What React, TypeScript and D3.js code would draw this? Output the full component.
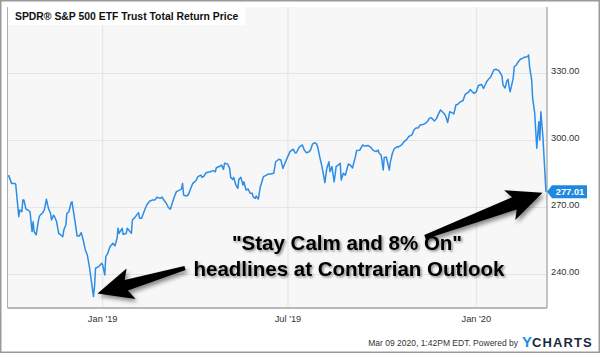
import React from "react";
import * as d3 from "d3";

const TITLE = "SPDR® S&P 500 ETF Trust Total Return Price";
const Y_TICKS = [240, 270, 300, 330];
const Y_DOMAIN = [240, 330];
const X_DOMAIN = ["2018-09-30", "2020-03-10"];
const X_TICKS = ["2019-01-01", "2019-07-01", "2020-01-01"];
const X_TICK_LABELS = ["Jan '19", "Jul '19", "Jan '20"];
const LAST_LABEL = "277.01";
const ANNOTATION_LINES = ["\"Stay Calm and 8% On\"", "headlines at Contrarian Outlook"];
const FOOTER = "Mar 09 2020, 1:42PM EDT.  Powered by";

const SERIES: [string, number][] = [
  ["2018-10-01", 284.5], ["2018-10-04", 280.8], ["2018-10-07", 280.8], ["2018-10-08", 280.5],
  ["2018-10-11", 265.9], ["2018-10-12", 268.9], ["2018-10-14", 268.1], ["2018-10-15", 273.4],
  ["2018-10-16", 273.4], ["2018-10-18", 269.3], ["2018-10-20", 268.9], ["2018-10-22", 268.1],
  ["2018-10-24", 259.2], ["2018-10-25", 263.6], ["2018-10-26", 259.2], ["2018-10-28", 257.7],
  ["2018-10-30", 263.6], ["2018-10-31", 265.9], ["2018-11-01", 266.6], ["2018-11-03", 267.4],
  ["2018-11-05", 268.9], ["2018-11-07", 273.7], ["2018-11-09", 269.6], ["2018-11-11", 267.4],
  ["2018-11-12", 264.4], ["2018-11-14", 266.6], ["2018-11-15", 265.9], ["2018-11-17", 263.6],
  ["2018-11-19", 258.4], ["2018-11-21", 257.7], ["2018-11-23", 256.9], ["2018-11-24", 259.9],
  ["2018-11-26", 262.2], ["2018-11-27", 267.4], ["2018-11-29", 268.1], ["2018-12-01", 271.9],
  ["2018-12-02", 272.6], ["2018-12-04", 266.6], ["2018-12-05", 263.6], ["2018-12-07", 257.2],
  ["2018-12-09", 257.2], ["2018-12-11", 258.7], ["2018-12-13", 255.4], ["2018-12-15", 251.0],
  ["2018-12-17", 248.7], ["2018-12-19", 243.5], ["2018-12-21", 236.8], ["2018-12-23", 230.1],
  ["2018-12-24", 234.5], ["2018-12-25", 242.8], ["2018-12-28", 243.5], ["2018-12-31", 245.0],
  ["2019-01-01", 244.2], ["2019-01-03", 239.8], ["2019-01-04", 248.0], ["2019-01-06", 249.5],
  ["2019-01-08", 252.4], ["2019-01-11", 254.0], ["2019-01-13", 252.8], ["2019-01-15", 256.2],
  ["2019-01-16", 260.7], ["2019-01-17", 258.4], ["2019-01-20", 260.7], ["2019-01-21", 258.0],
  ["2019-01-24", 258.4], ["2019-01-25", 260.7], ["2019-01-29", 258.4], ["2019-01-30", 264.4],
  ["2019-02-02", 265.9], ["2019-02-05", 267.7], ["2019-02-06", 265.2], ["2019-02-08", 265.2],
  ["2019-02-11", 268.9], ["2019-02-13", 271.1], ["2019-02-16", 272.9], ["2019-02-19", 273.4],
  ["2019-02-21", 273.4], ["2019-02-23", 274.6], ["2019-02-26", 274.1], ["2019-02-28", 274.7],
  ["2019-03-01", 273.8], ["2019-03-04", 272.0], ["2019-03-06", 270.1], ["2019-03-08", 269.2],
  ["2019-03-10", 272.0], ["2019-03-12", 274.8], ["2019-03-14", 277.1], ["2019-03-17", 277.8],
  ["2019-03-19", 278.3], ["2019-03-20", 280.8], ["2019-03-21", 275.6], ["2019-03-24", 275.1],
  ["2019-03-26", 276.0], ["2019-03-28", 278.6], ["2019-03-30", 280.8], ["2019-04-02", 282.0],
  ["2019-04-04", 283.8], ["2019-04-07", 284.5], ["2019-04-08", 283.5], ["2019-04-10", 284.1],
  ["2019-04-12", 285.6], ["2019-04-16", 286.0], ["2019-04-19", 286.5], ["2019-04-21", 286.0],
  ["2019-04-22", 287.8], ["2019-04-26", 288.6], ["2019-04-27", 289.0], ["2019-04-29", 287.1],
  ["2019-04-30", 289.8], ["2019-05-03", 289.5], ["2019-05-05", 287.5], ["2019-05-06", 283.5],
  ["2019-05-08", 282.6], ["2019-05-09", 283.5], ["2019-05-11", 280.1], ["2019-05-13", 278.6],
  ["2019-05-14", 282.6], ["2019-05-16", 283.5], ["2019-05-18", 280.1], ["2019-05-19", 281.5],
  ["2019-05-21", 277.8], ["2019-05-23", 278.3], ["2019-05-25", 276.4], ["2019-05-27", 276.4],
  ["2019-05-28", 274.8], ["2019-05-30", 274.1], ["2019-05-31", 275.1], ["2019-06-02", 273.8],
  ["2019-06-04", 279.3], ["2019-06-07", 283.8], ["2019-06-09", 284.3], ["2019-06-12", 285.0],
  ["2019-06-14", 285.0], ["2019-06-17", 285.3], ["2019-06-19", 290.5], ["2019-06-22", 291.6],
  ["2019-06-24", 291.3], ["2019-06-26", 287.5], ["2019-06-28", 289.8], ["2019-06-30", 292.0],
  ["2019-07-03", 295.0], ["2019-07-06", 296.1], ["2019-07-08", 294.5], ["2019-07-09", 294.4],
  ["2019-07-12", 297.0], ["2019-07-15", 298.0], ["2019-07-17", 295.7], ["2019-07-19", 294.5],
  ["2019-07-21", 294.8], ["2019-07-23", 295.7], ["2019-07-25", 298.4], ["2019-07-27", 299.0],
  ["2019-07-29", 298.4], ["2019-07-30", 297.1], ["2019-08-01", 292.7], ["2019-08-03", 288.6],
  ["2019-08-05", 283.8], ["2019-08-06", 281.1], ["2019-08-08", 287.7], ["2019-08-10", 290.5],
  ["2019-08-11", 286.0], ["2019-08-13", 288.3], ["2019-08-15", 281.5], ["2019-08-16", 284.5],
  ["2019-08-17", 288.3], ["2019-08-19", 289.0], ["2019-08-21", 289.8], ["2019-08-22", 282.3],
  ["2019-08-24", 285.3], ["2019-08-26", 284.5], ["2019-08-29", 289.5], ["2019-08-31", 289.0],
  ["2019-09-02", 287.7], ["2019-09-05", 293.1], ["2019-09-06", 295.5], ["2019-09-09", 295.6],
  ["2019-09-12", 298.0], ["2019-09-14", 297.5], ["2019-09-17", 297.8], ["2019-09-20", 296.9],
  ["2019-09-22", 295.7], ["2019-09-25", 295.0], ["2019-09-27", 295.7], ["2019-09-28", 294.3],
  ["2019-09-30", 293.5], ["2019-10-02", 286.8], ["2019-10-03", 292.4], ["2019-10-05", 292.6],
  ["2019-10-08", 286.8], ["2019-10-09", 290.4], ["2019-10-11", 294.3], ["2019-10-13", 296.5],
  ["2019-10-16", 297.2], ["2019-10-17", 297.1], ["2019-10-20", 298.0], ["2019-10-22", 299.3],
  ["2019-10-25", 300.5], ["2019-10-27", 301.8], ["2019-10-30", 302.5], ["2019-11-01", 304.7],
  ["2019-11-03", 305.6], ["2019-11-05", 305.6], ["2019-11-07", 306.9], ["2019-11-10", 307.2],
  ["2019-11-12", 307.6], ["2019-11-14", 308.3], ["2019-11-16", 309.9], ["2019-11-18", 310.2],
  ["2019-11-21", 308.7], ["2019-11-23", 309.8], ["2019-11-25", 311.9], ["2019-11-27", 313.7],
  ["2019-11-30", 312.3], ["2019-12-02", 311.0], ["2019-12-04", 308.1], ["2019-12-06", 312.9],
  ["2019-12-08", 312.5], ["2019-12-10", 311.9], ["2019-12-12", 315.9], ["2019-12-14", 316.3],
  ["2019-12-16", 317.2], ["2019-12-19", 317.9], ["2019-12-21", 320.6], ["2019-12-24", 321.5],
  ["2019-12-26", 322.8], ["2019-12-28", 321.8], ["2019-12-30", 321.1], ["2020-01-01", 321.9],
  ["2020-01-03", 324.6], ["2020-01-06", 325.1], ["2020-01-08", 323.3], ["2020-01-11", 326.3],
  ["2020-01-13", 327.5], ["2020-01-15", 328.4], ["2020-01-18", 331.6], ["2020-01-20", 331.9],
  ["2020-01-23", 331.3], ["2020-01-26", 328.9], ["2020-01-27", 324.9], ["2020-01-29", 323.5],
  ["2020-01-31", 326.9], ["2020-02-01", 327.4], ["2020-02-02", 324.0], ["2020-02-03", 321.8],
  ["2020-02-06", 327.9], ["2020-02-07", 333.0], ["2020-02-09", 333.8], ["2020-02-11", 335.3],
  ["2020-02-13", 336.4], ["2020-02-15", 336.8], ["2020-02-17", 337.3], ["2020-02-20", 337.5],
  ["2020-02-21", 338.3], ["2020-02-22", 333.0], ["2020-02-24", 327.1], ["2020-02-25", 318.9],
  ["2020-02-27", 312.2], ["2020-02-29", 296.5], ["2020-03-01", 302.5], ["2020-03-02", 308.4],
  ["2020-03-03", 300.2], ["2020-03-04", 312.9], ["2020-03-06", 301.7], ["2020-03-09", 277.01],
];

const FONT = "'Liberation Sans', Arial, Helvetica, sans-serif";

type Pt = [number, number];

function arrowPath(tip: Pt, tail: Pt, headLen: number, headHalf: number, sweep: number, neckHalf: number, tailHalf: number) {
  const dx = tip[0] - tail[0];
  const dy = tip[1] - tail[1];
  const len = Math.hypot(dx, dy);
  const ux = dx / len, uy = dy / len;
  const nx = -uy, ny = ux;
  const bx = tip[0] - ux * headLen, by = tip[1] - uy * headLen;
  const pts: Pt[] = [
    tip,
    [bx - ux * sweep + nx * headHalf, by - uy * sweep + ny * headHalf],
    [bx + nx * neckHalf, by + ny * neckHalf],
    [tail[0] + nx * tailHalf, tail[1] + ny * tailHalf],
    [tail[0] - nx * tailHalf, tail[1] - ny * tailHalf],
    [bx - nx * neckHalf, by - ny * neckHalf],
    [bx - ux * sweep - nx * headHalf, by - uy * sweep - ny * headHalf],
  ];
  return "M" + pts.map((p) => p[0].toFixed(1) + "," + p[1].toFixed(1)).join("L") + "Z";
}

export default function App() {
  const W = 600, H = 353;
  const left = 7.5, right = 547, top = 7, bottom = 308;
  const parse = d3.timeParse("%Y-%m-%d");
  const x = d3.scaleTime().domain(X_DOMAIN.map((d) => parse(d) as Date)).range([left, right]);
  const y = d3.scaleLinear().domain(Y_DOMAIN).range([274.5, 73.5]);
  const data = SERIES.map(([d, v]) => ({ date: parse(d) as Date, value: v }));
  const line = d3
    .line<{ date: Date; value: number }>()
    .x((d) => x(d.date))
    .y((d) => y(d.value));

  const low = data.reduce((a, b) => (b.value < a.value ? b : a));
  const last = data[data.length - 1];
  const lowPt: Pt = [x(low.date), y(low.value)];
  const lastPt: Pt = [x(last.date), y(last.value)];

  const arrow1 = arrowPath([lowPt[0] + 4, lowPt[1] - 3], [185, 268], 30, 16, 5, 5.5, 2);
  const arrow2 = arrowPath([lastPt[0] - 3.5, lastPt[1] + 1], [425, 237], 30, 16, 5, 6.5, 2);

  const tagY = lastPt[1];
  const tagX = right;
  const tagPath = `M${tagX},${tagY} L${tagX + 5},${tagY - 6.5} L${tagX + 40},${tagY - 6.5} L${tagX + 40},${tagY + 6.5} L${tagX + 5},${tagY + 6.5} Z`;

  return (
    <svg width={W} height={H} style={{ position: "absolute", left: 0, top: 0, fontFamily: FONT }}>
      <defs>
        <filter id="arrowShadow" x="-20%" y="-40%" width="150%" height="200%">
          <feDropShadow dx="2" dy="3" stdDeviation="2" floodColor="#000" floodOpacity="0.45" />
        </filter>
        <filter id="textShadow" x="-10%" y="-40%" width="120%" height="180%">
          <feDropShadow dx="1.5" dy="1.5" stdDeviation="1.2" floodColor="#000" floodOpacity="0.45" />
        </filter>
        <clipPath id="plotClip">
          <rect x={left} y={top} width={right - left} height={bottom - top} />
        </clipPath>
      </defs>
      <rect x={0} y={0} width={W} height={H} fill="#fff" />
      <rect x={0.75} y={0.75} width={W - 1.5} height={H - 1.5} fill="none" stroke="#9a9a9a" strokeWidth={1.5} />
      <rect x={left} y={top} width={right - left} height={bottom - top} fill="#f7f7f7" />
      {Y_TICKS.map((t) => (
        <line key={"gy" + t} x1={left} x2={right} y1={y(t)} y2={y(t)} stroke="#e4e4e4" strokeWidth={1} />
      ))}
      {X_TICKS.map((t) => {
        const xx = x(parse(t) as Date);
        return <line key={"gx" + t} x1={xx} x2={xx} y1={top} y2={bottom} stroke="#e4e4e4" strokeWidth={1} />;
      })}
      <rect x={left} y={top} width={238} height={18} fill="#fff" />
      <text x={15} y={20} fontSize={10.4} fontWeight="bold" fill="#111">{TITLE}</text>
      <path d={line(data) || ""} fill="none" stroke="#2b8de6" strokeWidth={1.5} strokeLinejoin="round" clipPath="url(#plotClip)" />
      <line x1={left} x2={left} y1={top} y2={bottom} stroke="#b0b0b0" strokeWidth={1} />
      <line x1={right} x2={right} y1={top} y2={bottom} stroke="#8a8a8a" strokeWidth={1} />
      <line x1={left} x2={right} y1={bottom} y2={bottom} stroke="#b8b8b8" strokeWidth={2} />
      {Y_TICKS.map((t) => (
        <text key={"ly" + t} x={551} y={y(t)} fontSize={9.3} fill="#333">{t.toFixed(2)}</text>
      ))}
      {X_TICKS.map((t, i) => (
        <text key={"lx" + t} x={x(parse(t) as Date)} y={322} fontSize={9.3} fill="#333" textAnchor="middle">{X_TICK_LABELS[i]}</text>
      ))}
      <path d={tagPath} fill="#1f88e0" />
      <text x={tagX + 23} y={tagY + 3.3} fontSize={9.3} fontWeight="bold" fill="#fff" textAnchor="middle">{LAST_LABEL}</text>
      <path d={arrow1} fill="#000" filter="url(#arrowShadow)" />
      <path d={arrow2} fill="#000" filter="url(#arrowShadow)" />
      <g filter="url(#textShadow)">
        <text x={347} y={250} fontSize={20.5} fontWeight="bold" fill="#000" textAnchor="middle">{ANNOTATION_LINES[0]}</text>
        <text x={349} y={276} fontSize={20.5} fontWeight="bold" fill="#000" textAnchor="middle">{ANNOTATION_LINES[1]}</text>
      </g>
      <text x={518} y={346} fontSize={8.5} fill="#333" textAnchor="end">{FOOTER}</text>
      <text x={522} y={346.5} fontWeight="bold" fill="#222">
        <tspan fontSize={15} fill="#1e8ee6">Y</tspan>
        <tspan fontSize={13} letterSpacing={1.1} fill="#1b2a3a">CHARTS</tspan>
      </text>
    </svg>
  );
}
